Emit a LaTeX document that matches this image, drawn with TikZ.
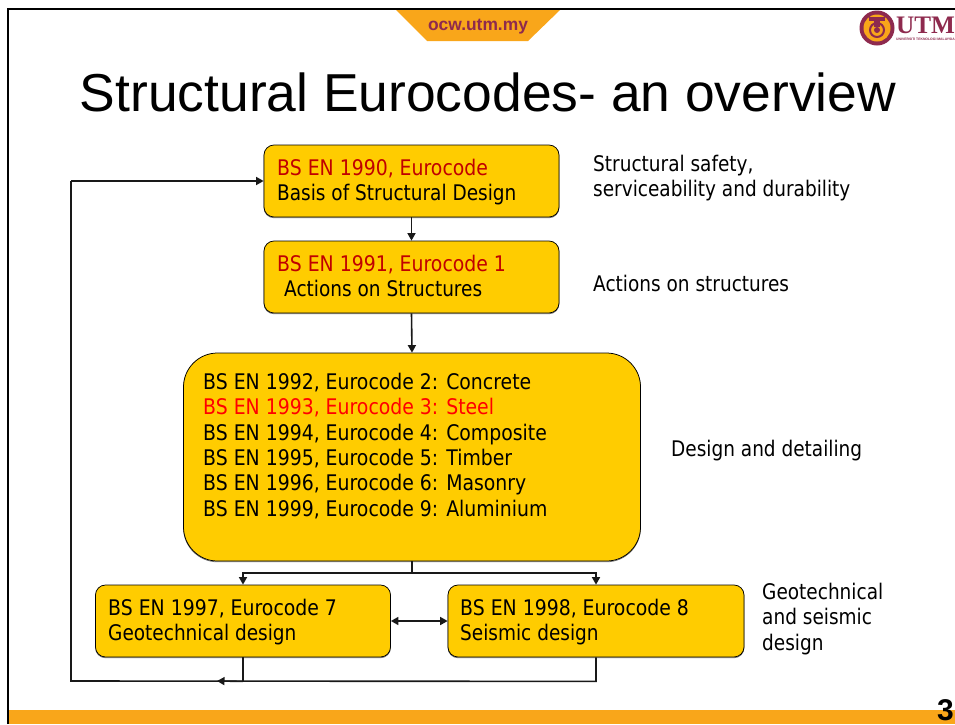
\documentclass[tikz,border=0pt]{standalone}
\usepackage{fontspec}
\setmainfont{DejaVu Sans}
\newfontfamily\bodyfont[FakeStretch=0.86]{DejaVu Sans}
\newfontfamily\codefont[FakeStretch=0.877]{DejaVu Sans}
\newfontfamily\arialfont{Liberation Sans}
\newfontfamily\logofont{Liberation Serif}
\usetikzlibrary{arrows.meta,calc}
\definecolor{boxfill}{HTML}{FFCC00}
\definecolor{bandorange}{HTML}{F9A61A}
\definecolor{utmred}{HTML}{8E2A4E}
\definecolor{darkredtext}{HTML}{C00000}
\tikzset{
  x=1pt,y=-1pt,
  box/.style={draw=black,line width=0.75pt,fill=boxfill,inner sep=0pt,
    preaction={draw=black!55,line width=0.75pt,transform canvas={yshift=-0.8pt}}},
  txt/.style={font=\bodyfont\fontsize{21.5}{25.3}\selectfont,align=left,inner sep=0pt,text=black},
  conn/.style={line width=1.6pt,draw=black!90},
  tip/.style={-{Triangle[length=7.5pt,width=8pt]}},
  tips/.style={{Triangle[length=7.5pt,width=8pt]}-{Triangle[length=7.5pt,width=8pt]}},
}
\begin{document}
\begin{tikzpicture}
\useasboundingbox (0,0) rectangle (955,724);
\fill[white] (0,0) rectangle (955,724);
% frame and band
\fill[bandorange] (9,710) rectangle (955,724);
\draw[line width=2pt,black] (8,724) -- (8,9) -- (955,9);
\fill[bandorange] (396,10) -- (560,10) -- (528,41) -- (427,41) -- cycle;
\node[font=\arialfont\bfseries\fontsize{17.4}{18}\selectfont,text=utmred,inner sep=0pt] (site) at (478,27) {ocw.utm.my};
% logo
\fill[utmred] (877,28) circle (17.5);
\fill[bandorange] (877,28) circle (13.5);
\draw[utmred,line width=2pt] (877,30) circle (7);
\fill[utmred] (877,30) circle (3);
\fill[utmred] (869,17) rectangle (885,21);
\fill[utmred] (874,20) rectangle (880,27);
\node[font=\logofont\bfseries\fontsize{25.2}{28}\selectfont,text=utmred,anchor=base west,inner sep=0pt] (utm) at (896,33) {UTM};
\node[font=\arialfont\bfseries\fontsize{3.4}{4}\selectfont,text=utmred,anchor=base west,inner sep=0pt] (utmsub) at (896,40) {UNIVERSITI TEKNOLOGI MALAYSIA};
% title
\node[font=\arialfont\fontsize{53.4}{58}\selectfont,anchor=base,inner sep=0pt] (title) at (488,111) {Structural Eurocodes- an overview};
% page number
\node[font=\arialfont\bfseries\fontsize{30}{33}\selectfont,anchor=base east,inner sep=0pt] (page) at (954,720) {3};
% boxes
\node[box,rounded corners=10pt,minimum width=295pt,minimum height=72pt] (b0) at (411.5,181) {};
\node[box,rounded corners=10pt,minimum width=295pt,minimum height=72pt] (b1) at (411.5,277) {};
\node[box,rounded corners=34pt,minimum width=457pt,minimum height=208pt] (b2) at (412,457) {};
\node[box,rounded corners=10pt,minimum width=295pt,minimum height=72pt] (b7) at (243,621) {};
\node[box,rounded corners=10pt,minimum width=296pt,minimum height=72pt] (b8) at (596,621) {};
% box texts
\node[txt,anchor=north west] (t0) at (277,159) {{\codefont\textcolor{darkredtext}{BS EN 1990, Eurocode}}\\Basis of Structural Design};
\node[txt,anchor=north west] (t1) at (277,255) {{\codefont\textcolor{darkredtext}{BS EN 1991, Eurocode 1}}\\\hspace*{7pt}Actions on Structures};
\node[txt,anchor=north west,font=\codefont\fontsize{21.5}{25.3}\selectfont] (t2) at (203,373) {BS EN 1992, Eurocode 2: Concrete\\\textcolor{red}{BS EN 1993, Eurocode 3: Steel}\\BS EN 1994, Eurocode 4: Composite\\BS EN 1995, Eurocode 5: Timber\\BS EN 1996, Eurocode 6: Masonry\\BS EN 1999, Eurocode 9: Aluminium};
\node[txt,anchor=north west] (t7) at (108,599) {{\codefont BS EN 1997, Eurocode 7}\\Geotechnical design};
\node[txt,anchor=north west] (t8) at (460,599) {{\codefont BS EN 1998, Eurocode 8}\\Seismic design};
% side labels
\node[txt,anchor=north west] (l0) at (593,155) {Structural safety,\\serviceability and durability};
\node[txt,anchor=north west] (l1) at (593,275) {Actions on structures};
\node[txt,anchor=north west] (l2) at (671,440) {Design and detailing};
\node[txt,anchor=north west] (l7) at (762,583) {Geotechnical\\and seismic\\design};
% connectors
\draw[conn,tip] (b0.south) -- (b1.north);
\draw[conn,tip] (b1.south) -- (b2.north);
\coordinate (split) at ($(b2.south)+(0,11.5)$);
\draw[conn] (b2.south) -- (split);
\draw[conn,tip] (split) -| (b7.north);
\draw[conn,tip] (split) -| (b8.north);
\draw[conn,tips] (b7.east) -- (b8.west);
\coordinate (low) at ($(b8.south)+(0,24)$);
\coordinate (corner) at (71,681);
\coordinate (mid) at (217,681);
\draw[conn] (b7.south) -- (b7.south |- low);
\draw[conn] (b8.south) -- (low) -- (corner) -- (corner |- b0.west);
\draw[conn,tip] (corner |- b0.west) -- (b0.west);
\draw[conn,tip] (b7.south |- low) -- (mid);
\end{tikzpicture}
\end{document}
